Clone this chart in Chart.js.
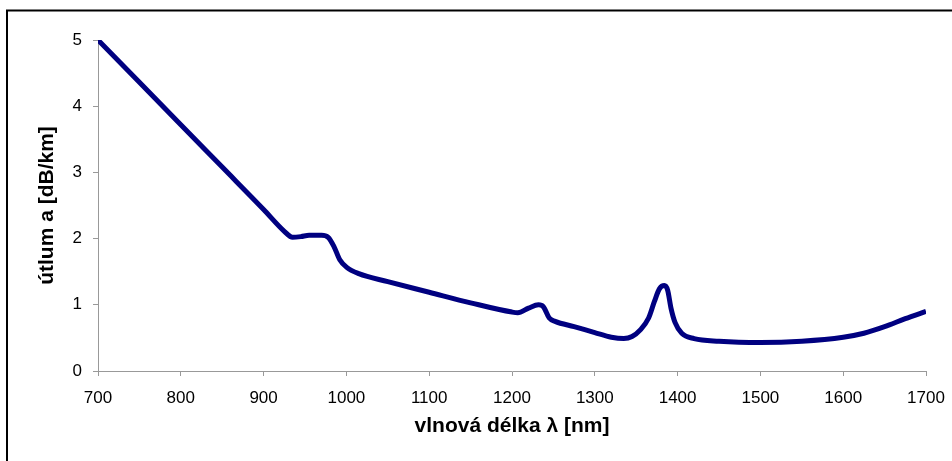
<!DOCTYPE html>
<html>
<head>
<meta charset="utf-8">
<script src="https://cdn.jsdelivr.net/npm/chart.js@4/dist/chart.umd.min.js"></script>
<style>
html,body{margin:0;padding:0;background:#fff;}
#wrap{width:952px;height:461px;position:relative;}
</style>
</head>
<body>
<div id="wrap"><canvas id="c" width="952" height="461"></canvas></div>
<script>
// wavelength (nm)
const wavelengths = [700,750,800,850,900,925,935,945,955,970,978,985,992,1000,1015,1050,1100,1150,1200,1207,1220,1232,1238,1245,1252,1275,1300,1320,1335,1345,1355,1365,1372,1378,1384,1388,1392,1397,1405,1420,1450,1500,1550,1600,1625,1650,1675,1700];
// attenuation (dB/km)
const attenuation = [5.00,4.36,3.72,3.08,2.44,2.11,2.02,2.03,2.05,2.05,2.02,1.88,1.68,1.57,1.47,1.35,1.19,1.03,0.89,0.88,0.95,1.00,0.97,0.80,0.75,0.67,0.58,0.51,0.49,0.52,0.62,0.80,1.05,1.24,1.29,1.22,0.95,0.73,0.57,0.49,0.45,0.43,0.45,0.51,0.57,0.67,0.79,0.90];
const xTitle = 'vlnová délka λ [nm]';
const yTitle = 'útlum a [dB/km]';

const points = wavelengths.map((w,i)=>({x:w,y:attenuation[i]}));

const framePlugin = {
  id:'frame',
  beforeDraw(chart){
    const ctx = chart.ctx;
    ctx.save();
    ctx.strokeStyle = '#000';
    ctx.lineWidth = 2;
    ctx.beginPath();
    ctx.moveTo(6,10.5); ctx.lineTo(952,10.5);
    ctx.moveTo(7,10); ctx.lineTo(7,461);
    ctx.stroke();
    ctx.restore();
  }
};

const FONT = "'Liberation Sans', Arial, sans-serif";
new Chart(document.getElementById('c'), {
  type:'scatter',
  data:{datasets:[{
    data:points,
    showLine:true,
    borderColor:'#000080',
    borderWidth:5,
    pointRadius:0,
    cubicInterpolationMode:'monotone',
    fill:false
  }]},
  options:{
    responsive:false,
    animation:false,
    devicePixelRatio:1,
    layout:{padding:{top:40,right:26,left:0,bottom:0}},
    plugins:{legend:{display:false},tooltip:{enabled:false}},
    scales:{
      x:{
        type:'linear',min:700,max:1700,
        afterFit(s){ s.height = 90; s.paddingLeft = 0; s.paddingRight = 0; },
        ticks:{stepSize:100,color:'#000',font:{family:FONT,size:17},padding:12,maxRotation:0,
               callback:(v)=>String(v)},
        grid:{drawOnChartArea:false,drawTicks:true,tickLength:5,color:'#999'},
        border:{display:true,color:'#999',width:1},
        title:{display:true,text:xTitle,color:'#000',font:{family:FONT,size:21,weight:'bold'},padding:{top:0,bottom:22}}
      },
      y:{
        type:'linear',min:0,max:5,
        afterFit(s){ s.width = 98; s.paddingTop = 0; s.paddingBottom = 0; },
        ticks:{stepSize:1,color:'#000',font:{family:FONT,size:17},padding:11,
               callback:(v)=>String(v)},
        grid:{drawOnChartArea:false,drawTicks:true,tickLength:5,color:'#999'},
        border:{display:true,color:'#999',width:1},
        title:{display:true,text:yTitle,color:'#000',font:{family:FONT,size:21,weight:'bold'},padding:{top:35,bottom:0}}
      }
    }
  },
  plugins:[framePlugin]
});
</script>
</body>
</html>
